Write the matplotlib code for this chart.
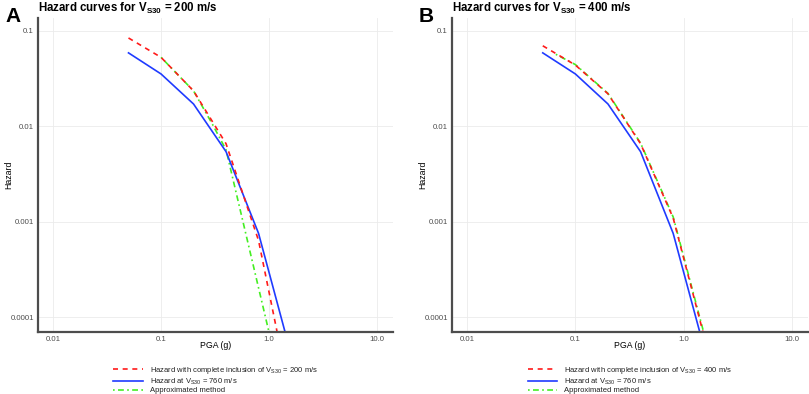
import matplotlib
matplotlib.use("Agg")
import matplotlib.pyplot as plt

plt.rcParams['font.family'] = ['Liberation Sans', 'DejaVu Sans']
plt.rcParams['mathtext.fontset'] = 'custom'
plt.rcParams['mathtext.rm'] = 'Liberation Sans'
plt.rcParams['mathtext.bf'] = 'Liberation Sans:bold'
plt.rcParams['mathtext.it'] = 'Liberation Sans:italic'

# ---- data ----
# Panel A (Vs30 = 200 m/s)
a_red_x = [0.05, 0.1, 0.2, 0.4, 0.8, 1.19]
a_red_y = [0.0845, 0.053, 0.0236, 0.0066, 0.00064, 0.00007]
a_blue_x = [0.05, 0.1, 0.2, 0.4, 0.8, 1.41]
a_blue_y = [0.059, 0.0355, 0.0172, 0.00545, 0.00076, 0.00007]
a_green_x = [0.1, 0.2, 0.3, 0.4, 1.0]
a_green_y = [0.053, 0.0236, 0.0105, 0.0057, 0.00007]

# Panel B (Vs30 = 400 m/s)
b_red_x = [0.05, 0.1, 0.2, 0.4, 0.8, 1.51]
b_red_y = [0.070, 0.044, 0.022, 0.0066, 0.0011, 0.00007]
b_blue_x = [0.05, 0.1, 0.2, 0.4, 0.8, 1.41]
b_blue_y = [0.059, 0.0355, 0.0172, 0.00545, 0.00076, 0.00007]
b_green_x = [0.066, 0.1, 0.2, 0.4, 0.8, 1.53]
b_green_y = [0.057, 0.0445, 0.0222, 0.0067, 0.00113, 0.00007]

x_ticks = [0.01, 0.1, 1.0, 10.0]
x_tick_labels = ["0.01", "0.1", "1.0", "10.0"]
y_ticks = [0.0001, 0.001, 0.01, 0.1]
y_tick_labels = ["0.0001", "0.001", "0.01", "0.1"]

panels = [
    ("A", "200", (a_red_x, a_red_y), (a_blue_x, a_blue_y), (a_green_x, a_green_y)),
    ("B", "400", (b_red_x, b_red_y), (b_blue_x, b_blue_y), (b_green_x, b_green_y)),
]

RED = '#FF1A1A'
BLUE = '#1F3BFF'
GREEN = '#44EE22'
TICKC = '#4D4D4D'

W, H = 809, 394
fig = plt.figure(figsize=(W / 100, H / 100), dpi=100)

axes_px = [(38, 393), (452, 808)]
top_px, bot_px = 18, 332
ah = bot_px - top_px

for (letter, vs, red, blue, green), (x0, x1) in zip(panels, axes_px):
    aw = x1 - x0
    ax = fig.add_axes([x0 / W, 1 - bot_px / H, aw / W, ah / H])
    ax.set_xscale('log')
    ax.set_yscale('log')
    ax.set_xlim(10 ** -2.139, 10 ** 1.148)
    ax.set_ylim(10 ** -4.152, 10 ** -0.864)
    ax.set_xticks(x_ticks)
    ax.set_xticklabels(x_tick_labels)
    ax.set_yticks(y_ticks)
    ax.set_yticklabels(y_tick_labels)
    ax.minorticks_off()
    ax.tick_params(length=0, labelsize=5.6, colors=TICKC, pad=3)
    ax.grid(True, color='#EBEBEB', lw=0.6)
    ax.set_axisbelow(True)
    for s in ['top', 'right']:
        ax.spines[s].set_visible(False)
    for s in ['left', 'bottom']:
        ax.spines[s].set_color('#4D4D4D')
        ax.spines[s].set_linewidth(1.6)

    gl, = ax.plot(green[0], green[1], color=GREEN, lw=1.2,
                  dashes=(1, 2, 3.5, 2), dash_capstyle='butt')
    bl, = ax.plot(blue[0], blue[1], color=BLUE, lw=1.2)
    rl, = ax.plot(red[0], red[1], color=RED, lw=1.2, dashes=(3, 2.8), dash_capstyle='butt')

    ax.set_xlabel('PGA (g)', fontsize=6.3)
    ax.xaxis.set_label_coords(0.5, -(341 - bot_px) / ah)
    ax.set_ylabel('Hazard', fontsize=6.3)
    ax.yaxis.set_label_coords(-25 / aw, 0.5)

    ax.text(0.0, (top_px - 12) / ah + 1.0,
            r'Hazard curves for $\mathbf{V_{S30}}$ = %s m/s' % vs,
            transform=ax.transAxes, fontsize=8.3, fontweight='bold',
            ha='left', va='baseline')
    fig.text((x0 - 33) / W, 1 - 7 / H, letter, fontsize=15, fontweight='bold',
             ha='left', va='top')

    labels = [r'Hazard with complete inclusion of V$_{\mathrm{S30}}$ = %s m/s' % vs,
              r'Hazard at V$_{\mathrm{S30}}$ = 760 m/s',
              'Approximated method']
    leg = ax.legend([rl, bl, gl], labels, loc='upper center',
                    bbox_to_anchor=(0.5, -(365 - bot_px) / ah), frameon=False,
                    fontsize=5.5, handlelength=3.9, handletextpad=0.9,
                    labelspacing=0.05, borderpad=0, borderaxespad=0)
    for t in leg.get_texts():
        t.set_color('#222222')

fig.savefig('out.png', dpi=100)
